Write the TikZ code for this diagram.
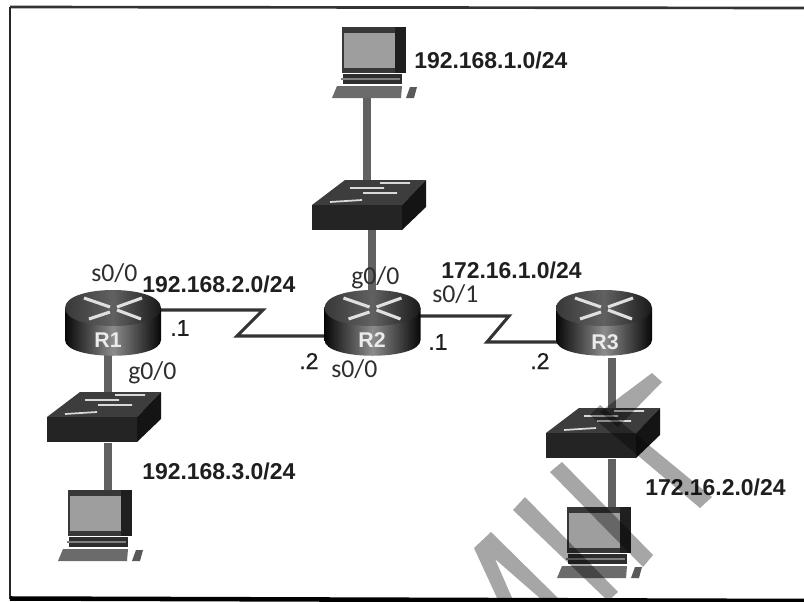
\documentclass[tikz,border=0pt]{standalone}
\usepackage{fontspec}
\setmainfont{Liberation Sans}
\newfontfamily\thinfont{Carlito}
\newfontfamily\hostfont[FakeBold=0.7]{Liberation Sans}
\definecolor{cablegray}{gray}{0.38}
\definecolor{wirecol}{gray}{0.20}
\definecolor{markgray}{gray}{0.65}
\tikzset{
  cable/.style={draw=cablegray,line width=6.2pt},
  wire/.style={draw=wirecol,line width=2.3pt,line join=miter},
  netlabel/.style={anchor=west,inner sep=0pt,font=\fontsize{17.2}{20}\selectfont\bfseries,text=black!88},
  portlabel/.style={anchor=west,inner sep=0pt,font=\thinfont\fontsize{19.3}{22}\selectfont,text=black!82},
  hostlabel/.style={anchor=west,inner sep=0pt,font=\hostfont\fontsize{17.2}{20}\selectfont,text=black!88},
  routername/.style={inner sep=0pt,font=\fontsize{16}{18}\selectfont\bfseries,text=white!92!black},
  pics/routericon/.style={code={
    \shade[left color=black!97,right color=black!97,middle color=black!45]
      (-48,18) -- (-48,50) .. controls (-48,71) and (48,71) .. (48,50) -- (48,18) -- cycle;
    \shade[left color=black!78,right color=black!90,middle color=black!62]
      (-48,18) .. controls (-48,-6) and (48,-6) .. (48,18)
      .. controls (48,42) and (-48,42) .. (-48,18) -- cycle;
    \draw[white!88!black,line width=2.3pt] (-29,8) -- (-3,17) (4,20) -- (28,29);
    \draw[white!88!black,line width=2.3pt] (-24,29) -- (-3,22) (4,17) -- (29,8);
  }},
  pics/switchicon/.style={code={
    \fill[black!76] (33,0) -- (114,0) -- (90,25) -- (0,25) -- cycle;
    \fill[black!86] (0,25) rectangle (90,50);
    \fill[black!92] (90,25) -- (114,0) -- (114,27) -- (90,50) -- cycle;
    \draw[white!85!black,line width=1.3pt]
      (38,8) -- (72,8) (51,13) -- (85,13) (18,22) -- (50,20) (68,3) -- (98,3);
  }},
  pics/pcicon/.style={code={
    \fill[black!78] (0,0) rectangle (64,46);
    \fill[black!88] (53,0) rectangle (64,46);
    \fill[black!38] (2,6) rectangle (53,41);
    \fill[black!82] (1,47) rectangle (60,57);
    \fill[black!50] (-1,51) rectangle (58,53);
    \fill[black!58] (-5,59) -- (60,59) -- (59,71) -- (-10,71) -- cycle;
    \fill[black!65] (64,71) -- (68,60) -- (75,60) -- (72,71) -- cycle;
  }},
}
\begin{document}
\begin{tikzpicture}[x=0.75pt,y=-0.75pt]
\useasboundingbox (0,0) rectangle (804,601);
\fill[white] (0,0) rectangle (804,601);
% frame
\coordinate (ftl) at (10,7);
\coordinate (ftr) at (804,8);
\coordinate (fbl) at (10,598.5);
\coordinate (fbr) at (804,601);
\draw[black!80,line width=2pt] (ftl) -- (ftr);
\draw[black!85,line width=1.3pt] (ftl) -- (fbl);
\draw[black,line width=3.4pt] (fbl) -- (fbr);
% anchors of devices
\coordinate (pcTop) at (367,98);
\coordinate (swTopUp) at (367,180);
\coordinate (swTopDown) at (372,230);
\coordinate (r2Up) at (372,295);
\coordinate (r1Down) at (108,355);
\coordinate (swLeftUp) at (108,392);
\coordinate (swLeftDown) at (108,443);
\coordinate (pcLeft) at (108,490);
\coordinate (r3Down) at (612,358);
\coordinate (swRightUp) at (612,408);
\coordinate (swRightDown) at (612,459);
\coordinate (pcRight) at (612,507);
\coordinate (r1East) at (161,310);
\coordinate (zA1) at (263,310);
\coordinate (zA2) at (237,336);
\coordinate (r2West) at (326,336);
\coordinate (r2East) at (419,316);
\coordinate (zB1) at (509,316);
\coordinate (zB2) at (487,342);
\coordinate (r3West) at (557,342);
% cables
\draw[cable] (pcTop) -- (swTopUp);
\draw[cable] (swTopDown) -- (r2Up);
\draw[cable] (r1Down) -- (swLeftUp);
\draw[cable] (swLeftDown) -- (pcLeft);
\draw[cable] (r3Down) -- (swRightUp);
\draw[cable] (swRightDown) -- (pcRight);
\draw[wire] (r1East) -- (zA1) -- (zA2) -- (r2West);
\draw[wire] (r2East) -- (zB1) -- (zB2) -- (r3West);
% devices
\pic at (342,27) {pcicon};
\pic at (68,490) {pcicon};
\begin{scope}[shift={(567,507)},xscale=1.15]
  \pic at (0,0) {pcicon};
\end{scope}
\pic at (312,180) {switchicon};
\pic at (47,392) {switchicon};
\pic at (546,408) {switchicon};
\pic at (113,290) {routericon};
\pic at (372.5,290) {routericon};
\pic at (604,290) {routericon};
\node[routername] (nR1) at (108,340) {R1};
\node[routername] (nR2) at (372,340) {R2};
\node[routername] (nR3) at (605,342) {R3};
% network labels
\node[netlabel] (n1) at (414,60) {192.168.1.0/24};
\node[netlabel] (n2) at (142,284) {192.168.2.0/24};
\node[netlabel] (n3) at (441,270) {172.16.1.0/24};
\node[netlabel] (n4) at (142,471) {192.168.3.0/24};
\node[netlabel] (n5) at (645,487) {172.16.2.0/24};
% port labels
\node[portlabel] (p1) at (91,273) {s0/0};
\node[portlabel] (p2) at (128,373) {g0/0};
\node[portlabel] (p3) at (351,278) {g0/0};
\node[portlabel] (p4) at (432,294) {s0/1};
\node[portlabel] (p5) at (331,369) {s0/0};
% host labels
\node[hostlabel] (h1) at (170,328) {.1};
\node[hostlabel] (h2) at (299,361) {.2};
\node[hostlabel] (h3) at (428,342) {.1};
\node[hostlabel] (h4) at (530,361) {.2};
% watermark
\begin{scope}[blend mode=multiply]
  \fill[markgray] (652,373) -- (662,382) -- (618,427) -- (600,412) -- cycle;
  \fill[markgray] (600,405) -- (712,497) -- (700,508) -- (590,415) -- cycle;
  \fill[markgray] (562,462) -- (653,555) -- (643,567) -- (550,472) -- cycle;
  \fill[markgray] (525,497) -- (618,592) -- (608,601) -- (513,510) -- cycle;
  \fill[markgray] (491,532) -- (560,600) -- (542,600) -- (495,559) -- (513,600) -- (498,600) -- (474,548) -- cycle;
\end{scope}
\end{tikzpicture}
\end{document}
